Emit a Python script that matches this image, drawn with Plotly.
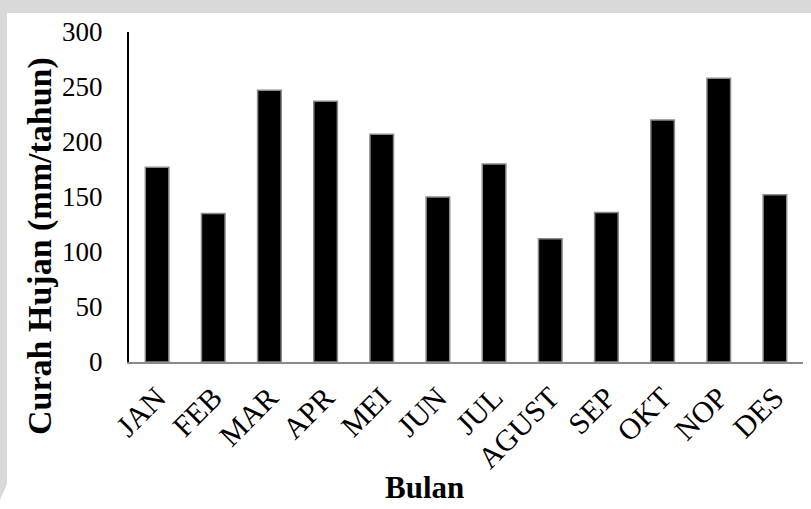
import plotly.graph_objects as go

# Monthly rainfall data
bulan = ["JAN", "FEB", "MAR", "APR", "MEI", "JUN", "JUL", "AGUST", "SEP", "OKT", "NOP", "DES"]
curah_hujan = [177, 135, 247, 237, 207, 150, 180, 112, 136, 220, 258, 152]
y_ticks = [0, 50, 100, 150, 200, 250, 300]

W, H = 811, 509
L, R, T, B = 129, 8, 32, 147
pw, ph = W - L - R, H - T - B


def px_x(x):
    return (x - L) / pw


def px_y(y):
    return (H - B - y) / ph


FONT = "Liberation Serif, Times New Roman, serif"
GRAY = "#d9d9d9"

fig = go.Figure(
    go.Bar(
        x=bulan,
        y=curah_hujan,
        marker=dict(color="black", line=dict(color="#8a8a8a", width=1.5)),
        width=0.42,
    )
)

shapes = [
    # grey frame at the top and left edge of the page
    dict(type="rect", xref="paper", yref="paper", layer="below",
         x0=px_x(0), x1=px_x(W), y0=px_y(13), y1=px_y(0),
         fillcolor=GRAY, line=dict(width=0)),
    dict(type="path", xref="paper", yref="paper", layer="below",
         path=f"M {px_x(0)},{px_y(0)} L {px_x(7)},{px_y(0)} L {px_x(7)},{px_y(484)} "
              f"L {px_x(0)},{px_y(500)} Z",
         fillcolor=GRAY, line=dict(width=0)),
]

annotations = [
    dict(text="<b>Curah Hujan (mm/tahun)</b>", xref="paper", yref="paper",
         x=px_x(40), y=px_y(246), xanchor="center", yanchor="middle",
         textangle=-90, showarrow=False, font=dict(family=FONT, size=34, color="black")),
    dict(text="<b>Bulan</b>", xref="paper", yref="paper",
         x=px_x(424), y=px_y(487), xanchor="center", yanchor="middle",
         showarrow=False, font=dict(family=FONT, size=31, color="black")),
]

fig.update_layout(
    width=W, height=H,
    margin=dict(l=L, r=R, t=T, b=B, pad=0),
    paper_bgcolor="white",
    plot_bgcolor="rgba(0,0,0,0)",
    showlegend=False,
    shapes=shapes,
    annotations=annotations,
    font=dict(family=FONT, color="black"),
    xaxis=dict(
        showline=True, linecolor="#8a8a8a", linewidth=2,
        showgrid=False, ticks="", tickangle=-45,
        tickfont=dict(family=FONT, size=30, color="black"),
        ticklabelstandoff=4,
    ),
    yaxis=dict(
        range=[0, 300], tickvals=y_ticks,
        showline=True, linecolor="black", linewidth=2,
        showgrid=False, zeroline=False, ticks="",
        tickfont=dict(family=FONT, size=27, color="black"),
        ticklabelstandoff=19,
    ),
)

fig.write_html("out.html")
